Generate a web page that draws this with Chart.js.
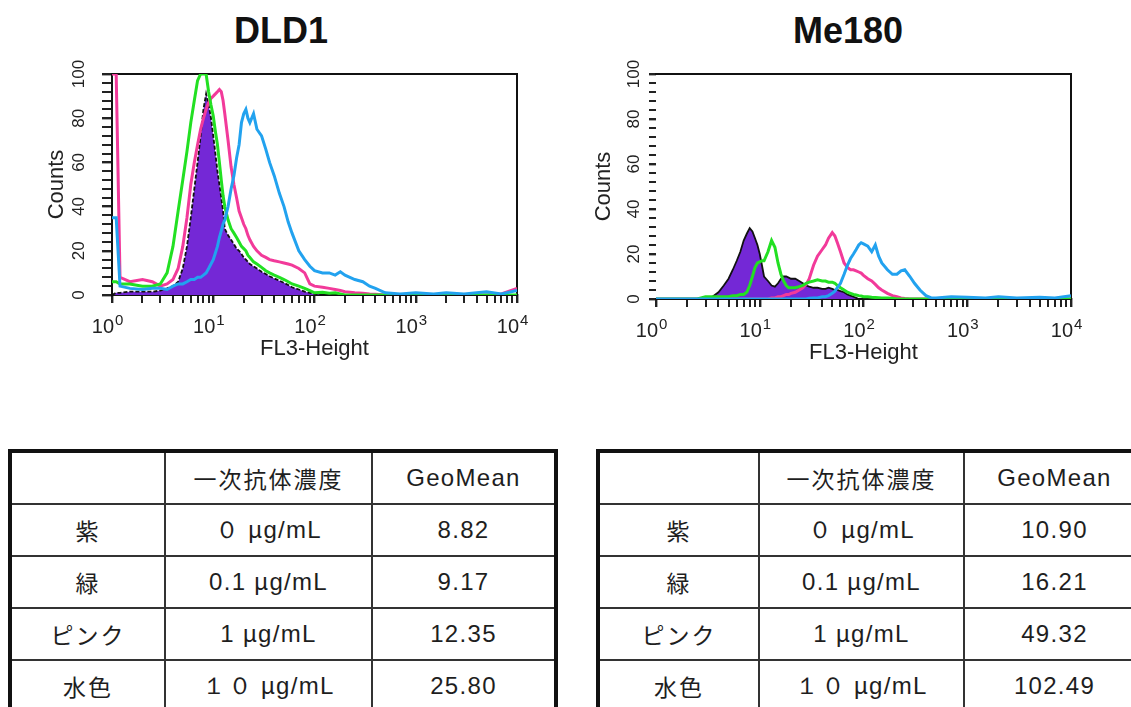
<!DOCTYPE html>
<html lang="ja">
<head>
<meta charset="utf-8">
<title>DLD1 / Me180 FL3-Height</title>
<script src="https://cdn.jsdelivr.net/npm/chart.js@4.4.1/dist/chart.umd.min.js"></script>
<style>
    html, body { margin: 0; padding: 0; width: 1131px; height: 707px; overflow: hidden; background: #fff; }
    body { position: relative; font-family: "Liberation Sans", Arial, sans-serif; color: #222; }
    .title { position: absolute; top: 9px; font-weight: bold; font-size: 36px; line-height: 44px; color: #111; transform: translateX(-50%); white-space: nowrap; }
    canvas { position: absolute; top: 0; }
    table.geo { position: absolute; top: 449px; border-collapse: collapse; border: 4px solid #111; table-layout: fixed; }
    table.geo td { height: 50px; border: 2px solid #333; text-align: center; vertical-align: middle; font-size: 24px; letter-spacing: 1.3px; padding: 0; color: #1e1e1e; }
    table.geo td.jp { font-family: "Noto Sans CJK JP", sans-serif; font-size: 23px; letter-spacing: 2px; }
</style>
</head>
<body>
<div class="title" style="left:281px">DLD1</div>
<div class="title" style="left:848px">Me180</div>
<canvas id="dldChart" width="570" height="380" style="left:0"></canvas>
<canvas id="meChart" width="556" height="380" style="left:575px"></canvas>

<table class="geo" id="dldTable" style="left:8px; width:546px"></table>
<table class="geo" id="meTable" style="left:596px; width:548px"></table>

<script>
// DLD1 histograms (FL3-Height channel -> counts)
const dldX = [1, 1.1, 1.2, 1.5, 2, 2.5, 3, 3.5, 4, 4.5,
    5, 5.5, 6, 6.5, 7, 7.5, 8, 8.5, 9, 9.5,
    10, 10.5, 11, 11.5, 12, 12.5, 13, 14, 15, 16,
    17, 18, 19, 20, 21, 22, 23, 25, 27, 30,
    33, 36, 40, 45, 50, 55, 60, 70, 80, 90,
    100, 120, 140, 160, 180, 200, 250, 300, 350, 400,
    500, 700, 1000, 1500, 2000, 3000, 5000, 7000, 10000];
const dldPurple = [0, 1, 1, 1.5, 1.5, 1.5, 2, 3, 4, 6,
    12, 22, 35, 48, 60, 72, 84, 91, 86, 80,
    72, 64, 56, 50, 44, 38, 30, 27, 25, 23,
    21, 20, 18.5, 17, 16, 15, 14, 13, 12, 10.5,
    9.5, 8.5, 7.5, 6.5, 5.5, 4.5, 3.5, 2.5, 1.5, 1,
    0.5, 0, 0, 0, 0, 0, 0, 0, 0, 0,
    0, 0, 0, 0, 0, 0, 0, 0, 0];
const dldGreen = [6, 6, 5, 5, 4, 4, 5, 10, 22, 38,
    52, 65, 78, 88, 97, 100, 100, 100, 92, 86,
    81, 74, 68, 60, 52, 45, 40, 34, 30, 28,
    26, 24, 22, 21, 20, 18, 17, 15, 14, 12.5,
    11, 10, 9, 8, 7, 6, 5, 4, 3, 2,
    1, 1.2, 0.8, 1, 0.5, 0, 0, 0, 0, 0,
    0, 0, 0, 0, 0, 0, 0, 0, 0];
const dldPink = [100, 100, 8, 6, 7, 6, 4, 5, 7, 12,
    22, 35, 50, 60, 68, 75, 80, 84, 87, 89,
    90, 91, 92, 93, 92, 88, 82, 70, 58, 50,
    44, 38, 35, 32, 30, 27, 25, 22, 20, 18,
    17, 16, 15.5, 15, 14.5, 14, 13.5, 12, 10, 5,
    4, 3.5, 3, 2.5, 2, 1.5, 1, 0.8, 0.5, 0.3,
    0, 0, 0, 0, 0, 0, 0, 0.5, 3];
const dldBlue = [35, 35, 4, 3, 2.5, 3, 3, 2.5, 4, 5,
    5, 6, 7, 7, 8, 8, 9, 10, 12, 14,
    16, 19, 22, 26, 29, 32, 34, 40, 48, 54,
    62, 68, 78, 82, 84, 80, 78, 82, 75, 72,
    66, 60, 54, 46, 40, 33, 28, 20, 16, 13,
    11, 10, 10, 9, 10.5, 9, 7, 6, 4, 3,
    1, 0.5, 1, 0.5, 1, 0.5, 1.5, 0.5, 2];

// Me180 histograms
const meX = [1, 2, 2.5, 3, 3.5, 4, 4.5, 5, 5.5, 6,
    6.5, 7, 7.5, 8, 8.5, 9, 9.5, 10, 10.5, 11,
    12, 13, 14, 15, 16, 17, 18, 19, 20, 22,
    24, 26, 28, 30, 33, 36, 40, 43, 46, 50,
    53, 56, 60, 65, 70, 75, 80, 85, 90, 95,
    100, 110, 120, 130, 140, 150, 170, 190, 210, 230,
    250, 280, 310, 350, 400, 450, 500, 700, 1000, 1500,
    2000, 3000, 5000, 7000, 10000];
const mePurple = [0, 0, 0, 0.5, 1, 3, 6, 9, 13, 17,
    21, 26, 29, 31.5, 30, 27, 24, 20, 15, 10,
    8, 6, 5.5, 7, 9, 10, 10, 9.5, 9, 9,
    8, 7, 6, 5.5, 5, 5, 4.5, 4.5, 5, 4.5,
    4, 4, 3.5, 3, 2, 1.5, 1, 0.5, 0, 0,
    0, 0, 0, 0, 0, 0, 0, 0, 0, 0,
    0, 0, 0, 0, 0, 0, 0, 0, 0, 0,
    0, 0, 0, 0, 0];
const meGreen = [0, 0, 0, 1, 1, 1, 1, 1, 1.5, 1.5,
    2, 2, 3, 6, 10, 14, 16, 16.5, 17, 17,
    21, 26, 23, 16, 11, 8, 6, 5, 5, 5,
    5.5, 6, 7, 7.5, 8, 8.5, 8, 8, 7.5, 7.5,
    7, 6, 5, 4, 3, 2.5, 2, 1.8, 1.5, 1.3,
    1, 1, 0.8, 0.7, 0.6, 0.5, 0.5, 0.3, 0, 0,
    0, 0, 0, 0, 0, 0, 0, 0, 0, 0,
    0, 0, 0, 0, 0];
const mePink = [0, 0, 0, 0, 0, 0, 0, 0, 0, 0,
    0, 0, 0, 0, 0, 0, 0, 0, 0, 0,
    0, 0.5, 0.5, 1, 1, 1.5, 2, 2, 2.5, 3,
    4, 5, 6.5, 9, 15, 19, 22, 24, 27, 29.5,
    28, 25, 21, 16, 14, 13, 13, 12.5, 12, 11.5,
    10.5, 9, 8, 6.5, 5, 4, 2.5, 1.5, 1, 0.5,
    0.2, 0, 0, 0, 0, 0, 0, 0, 0, 0,
    0, 0, 0, 0, 0];
const meBlue = [0, 0, 0, 0, 0, 0, 0, 0, 0, 0,
    0, 0, 0, 0, 0, 0, 0, 0, 0, 0,
    0, 0, 0, 0, 0, 0, 0, 0, 0, 0,
    0, 0, 0, 0.3, 0.5, 0.5, 1, 1, 1.5, 2.5,
    3.5, 5, 7, 11, 15, 18, 20, 22, 24, 25,
    24.5, 23.5, 21, 24, 19, 16, 13, 11, 11, 12.5,
    13, 10, 7, 4, 1.5, 0.5, 0.5, 1, 0.8, 0.5,
    1, 0.5, 0.8, 0.5, 1.5];

// axes
const xTicks = [1, 2, 3, 4, 5, 6, 7, 8, 9, 10, 20, 30, 40, 50, 60, 70, 80, 90,
    100, 200, 300, 400, 500, 600, 700, 800, 900, 1000, 2000, 3000, 4000, 5000,
    6000, 7000, 8000, 9000, 10000];
const xTickExps = [0, 1, 2, 3, 4];
const yTicks = [0, 4, 8, 12, 16, 20, 24, 28, 32, 36, 40, 44, 48, 52, 56, 60,
    64, 68, 72, 76, 80, 84, 88, 92, 96, 100];
const yTickLabels = [0, 20, 40, 60, 80, 100];

// tables
const tableHeader = ['', '一次抗体濃度', 'GeoMean'];
const rowNames = ['紫', '緑', 'ピンク', '水色'];
const concentrations = ['０ µg/mL', '0.1 µg/mL', '1 µg/mL', '１０ µg/mL'];
const dldGeoMean = ['8.82', '9.17', '12.35', '25.80'];
const meGeoMean = ['10.90', '16.21', '49.32', '102.49'];

const colors = {
    purple: '#7428d6',
    green: '#22e022',
    pink: '#f23a9a',
    blue: '#22a2ef'
};
const FONT = '"Liberation Sans", Arial, sans-serif';

// frame (top/right) + tick labels 10^n and rotated counts
const flowAxes = {
    id: 'flowAxes',
    beforeDatasetsDraw(chart) {
        const { ctx, chartArea: a } = chart;
        ctx.save();
        ctx.strokeStyle = '#111';
        ctx.lineWidth = 2;
        ctx.beginPath();
        ctx.moveTo(a.left - 1, a.top);
        ctx.lineTo(a.right, a.top);
        ctx.lineTo(a.right, a.bottom + 1);
        ctx.stroke();
        ctx.restore();
    },
    afterDraw(chart, args, o) {
        const { ctx } = chart;
        const xs = chart.scales.x, ys = chart.scales.y;
        ctx.save();
        ctx.fillStyle = '#222';
        xTickExps.forEach(n => {
            const px = xs.getPixelForValue(Math.pow(10, n));
            ctx.font = '20px ' + FONT;
            ctx.textAlign = 'right';
            ctx.textBaseline = 'alphabetic';
            ctx.fillText('10', px + 2, o.baseY);
            ctx.font = '15px ' + FONT;
            ctx.textAlign = 'left';
            ctx.fillText(String(n), px + 3, o.baseY - 8);
        });
        yTickLabels.forEach(v => {
            const py = ys.getPixelForValue(v);
            ctx.save();
            ctx.translate(o.yLabelX, py);
            ctx.rotate(-Math.PI / 2);
            ctx.font = '17px ' + FONT;
            ctx.textAlign = 'center';
            ctx.textBaseline = 'middle';
            ctx.fillText(String(v), 0, 0);
            ctx.restore();
        });
        ctx.restore();
    }
};

function series(xs, ys) {
    return xs.map((x, i) => ({ x: x, y: ys[i] }));
}

function makeChart(id, cfg) {
    const line = (label, ys, color, order) => ({
        label: label,
        data: series(cfg.xs, ys),
        borderColor: color,
        borderWidth: 3,
        pointRadius: 0,
        tension: 0,
        fill: false,
        order: order
    });
    return new Chart(document.getElementById(id), {
        type: 'line',
        data: {
            datasets: [
                line('水色', cfg.blue, colors.blue, 0),
                line('緑', cfg.green, colors.green, 1),
                line('ピンク', cfg.pink, colors.pink, 2),
                {
                    label: '紫',
                    data: series(cfg.xs, cfg.purple),
                    borderColor: '#111',
                    borderWidth: 1.8,
                    borderDash: cfg.dash,
                    backgroundColor: colors.purple,
                    pointRadius: 0,
                    tension: 0,
                    fill: 'origin',
                    order: 3
                }
            ]
        },
        options: {
            responsive: false,
            animation: false,
            events: [],
            layout: { padding: cfg.padding },
            plugins: {
                legend: { display: false },
                tooltip: { enabled: false },
                flowAxes: { baseY: cfg.baseY, yLabelX: cfg.yLabelX }
            },
            scales: {
                x: {
                    type: 'logarithmic',
                    min: 1,
                    max: 10000,
                    afterBuildTicks: s => { s.ticks = xTicks.map(v => ({ value: v })); },
                    afterFit: s => { s.height = cfg.xHeight; },
                    ticks: { display: false },
                    grid: {
                        drawOnChartArea: false,
                        drawTicks: true,
                        tickLength: 8,
                        color: '#222',
                        lineWidth: c => (c.tick && Number.isInteger(Math.log10(c.tick.value)) ? 2.4 : 2)
                    },
                    border: { display: true, color: '#111', width: 2 },
                    title: {
                        display: true,
                        text: 'FL3-Height',
                        color: '#222',
                        font: { family: FONT, size: 22 },
                        padding: { top: 0, bottom: 0 }
                    }
                },
                y: {
                    type: 'linear',
                    min: 0,
                    max: 100,
                    afterBuildTicks: s => { s.ticks = yTicks.map(v => ({ value: v })); },
                    afterFit: s => { s.width = cfg.yWidth; },
                    ticks: { display: false },
                    grid: {
                        drawOnChartArea: false,
                        drawTicks: true,
                        tickLength: cfg.yTickLength,
                        color: '#222',
                        lineWidth: c => (c.tick && c.tick.value % 20 === 0 ? 2.4 : 2)
                    },
                    border: { display: cfg.leftBorder, color: '#111', width: 2 },
                    title: {
                        display: true,
                        text: 'Counts',
                        color: '#222',
                        font: { family: FONT, size: 22 },
                        padding: { top: 0, bottom: 0 }
                    }
                }
            }
        },
        plugins: [flowAxes]
    });
}

makeChart('dldChart', {
    xs: dldX, purple: dldPurple, green: dldGreen, pink: dldPink, blue: dldBlue,
    dash: [4, 2],
    padding: { left: 44, right: 53, top: 74, bottom: 18 },
    yWidth: 68, xHeight: 67,
    baseY: 333, yLabelX: 79, yTickLength: 10,
    leftBorder: true
});

makeChart('meChart', {
    xs: meX, purple: mePurple, green: meGreen, pink: mePink, blue: meBlue,
    dash: [],
    padding: { left: 16, right: 60, top: 74, bottom: 14 },
    yWidth: 65, xHeight: 67,
    baseY: 337, yLabelX: 59, yTickLength: 7,
    leftBorder: false
});

function fillTable(id, widths, geo) {
    const table = document.getElementById(id);
    const cg = document.createElement('colgroup');
    widths.forEach(w => {
        const c = document.createElement('col');
        c.style.width = w + 'px';
        cg.appendChild(c);
    });
    table.appendChild(cg);
    const rows = [tableHeader].concat(rowNames.map((n, i) => [n, concentrations[i], geo[i]]));
    rows.forEach((r, ri) => {
        const tr = document.createElement('tr');
        r.forEach((txt, ci) => {
            const td = document.createElement('td');
            td.textContent = txt;
            if (ci === 0 || (ri === 0 && ci === 1)) td.className = 'jp';
            tr.appendChild(td);
        });
        table.appendChild(tr);
    });
}

fillTable('dldTable', [155, 207, 184], dldGeoMean);
fillTable('meTable', [161, 205, 182], meGeoMean);
</script>
</body>
</html>
